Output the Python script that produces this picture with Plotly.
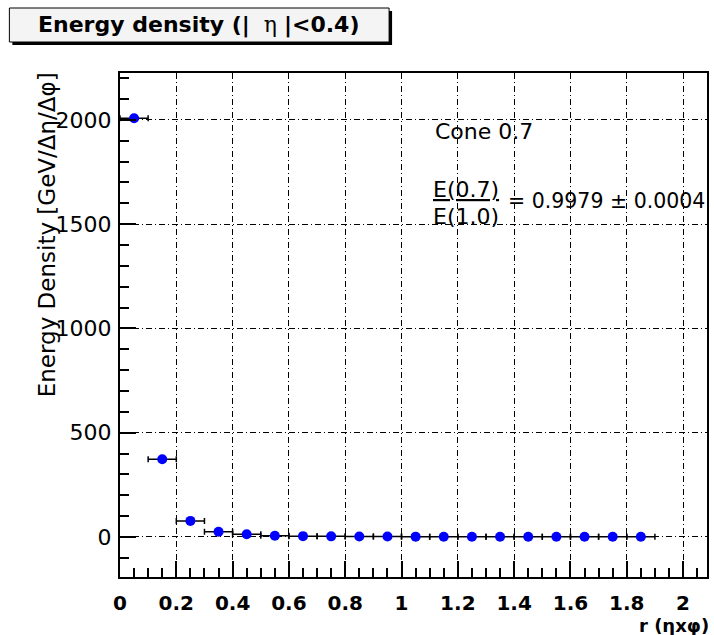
import plotly.graph_objects as go

# ---- data ----
r_centers = [0.05, 0.15, 0.25, 0.35, 0.45, 0.55, 0.65, 0.75, 0.85, 0.95,
             1.05, 1.15, 1.25, 1.35, 1.45, 1.55, 1.65, 1.75, 1.85]
energy_density = [2008, 373, 77, 25, 13, 6, 4, 3, 2, 2,
                  1.5, 1.2, 1, 1, 1, 1, 1, 1, 1]
r_half_width = [0.05] * len(r_centers)

x_range = [0, 2.085]
y_range = [-192, 2225]

# plot-area geometry (pixels) used to place decorations in paper coords
W, H = 714, 635
L, R, T, B = 120, 709, 73, 577


def px(x):
    return (x - L) / (R - L)


def py(y):
    return (B - y) / (B - T)


FONT = "DejaVu Sans, Verdana, sans-serif"

fig = go.Figure()
fig.add_trace(go.Scatter(
    x=r_centers, y=energy_density, mode="markers",
    marker=dict(color="#0000ff", size=10, line=dict(width=0)),
    error_x=dict(type="data", array=r_half_width, color="black",
                 thickness=1.5, width=3),
    showlegend=False, hoverinfo="x+y",
))

grid_dash = "6px,3px,1px,3px"

fig.update_layout(
    width=W, height=H,
    margin=dict(l=L, r=W - R, t=T, b=H - B, pad=0),
    paper_bgcolor="white", plot_bgcolor="white",
    font=dict(family=FONT, color="black", size=20),
    xaxis=dict(
        range=x_range, tick0=0, dtick=0.2, ticks="inside", ticklen=16,
        tickwidth=1.5, tickcolor="black", showline=True, linecolor="black",
        linewidth=2, mirror=True, showgrid=True, gridcolor="black",
        gridwidth=1, griddash=grid_dash, zeroline=False,
        ticklabelstandoff=7,
        tickfont=dict(size=20, weight="bold", family=FONT, color="black"),
        minor=dict(ticks="inside", ticklen=9, dtick=0.05, tickcolor="black",
                   tickwidth=1.5, showgrid=False),
    ),
    yaxis=dict(
        range=y_range, tick0=0, dtick=500, ticks="inside", ticklen=16,
        tickwidth=1.5, tickcolor="black", showline=True, linecolor="black",
        linewidth=2, mirror=True, showgrid=True, gridcolor="black",
        gridwidth=1, griddash=grid_dash, zeroline=False,
        ticklabelstandoff=2,
        tickfont=dict(size=22, family=FONT, color="black"),
        minor=dict(ticks="inside", ticklen=9, dtick=100, tickcolor="black",
                   tickwidth=1.5, showgrid=False),
    ),
)

# title box with shadow
fig.add_shape(type="rect", xref="paper", yref="paper",
              x0=px(12), x1=px(393), y0=py(45), y1=py(11),
              fillcolor="black", line=dict(width=0), layer="above")
fig.add_shape(type="rect", xref="paper", yref="paper",
              x0=px(9), x1=px(390), y0=py(42), y1=py(8),
              fillcolor="#f4f4f4", line=dict(color="black", width=1),
              layer="above")
fig.add_annotation(
    xref="paper", yref="paper", x=px(199), y=py(25),
    xanchor="center", yanchor="middle", showarrow=False,
    text="<b>Energy density (|</b>  <span style='font-family:DejaVu Serif'>η</span> <b>|<0.4)</b>",
    font=dict(size=22, family=FONT, color="black"),
)

# axis titles
fig.add_annotation(
    xref="paper", yref="paper", x=px(713), y=py(625),
    xanchor="right", yanchor="middle", showarrow=False,
    text="<b>r (ηxφ)</b>", font=dict(size=18, family=FONT, color="black"),
)
fig.add_annotation(
    xref="paper", yref="paper", x=px(47), y=py(235),
    xanchor="center", yanchor="middle", showarrow=False, textangle=-90,
    text="Energy Density [GeV/Δη/Δφ]",
    font=dict(size=23, family=FONT, color="black"),
)

# in-plot labels
fig.add_annotation(
    xref="paper", yref="paper", x=px(434), y=py(131),
    xanchor="left", yanchor="middle", showarrow=False,
    text="Cone 0.7", font=dict(size=22, family=FONT, color="black"),
)
fig.add_annotation(
    xref="paper", yref="paper", x=px(432), y=py(189),
    xanchor="left", yanchor="middle", showarrow=False,
    text="<u>E(0.7)</u>", font=dict(size=22, family=FONT, color="black"),
)
fig.add_annotation(
    xref="paper", yref="paper", x=px(432), y=py(216),
    xanchor="left", yanchor="middle", showarrow=False,
    text="E(1.0)", font=dict(size=22, family=FONT, color="black"),
)
fig.add_annotation(
    xref="paper", yref="paper", x=px(507), y=py(201),
    xanchor="left", yanchor="middle", showarrow=False,
    text="= 0.9979 ± 0.0004", font=dict(size=20.5, family=FONT, color="black"),
)

fig.write_html("out.html")
